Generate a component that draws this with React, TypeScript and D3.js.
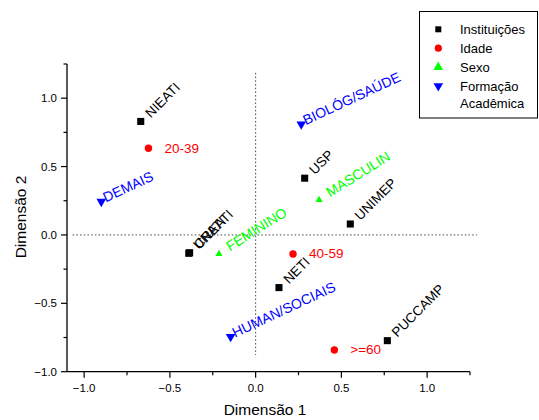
import React from "react";
import * as d3 from "d3";

// Correspondence-analysis coordinates (Dimensão 1, Dimensão 2)
const institutionNames = ["NIEATI", "USP", "UNIMEP", "UNATI", "CREATI", "NETI", "PUCCAMP"];
const institutionX = [-0.67, 0.286, 0.552, -0.39, -0.385, 0.136, 0.768];
const institutionY = [0.83, 0.415, 0.08, -0.134, -0.13, -0.385, -0.773];

const ageNames = ["20-39", "40-59", ">=60"];
const ageX = [-0.625, 0.218, 0.459];
const ageY = [0.634, -0.139, -0.841];

const sexNames = ["MASCULIN", "FEMININO"];
const sexX = [0.37, -0.214];
const sexY = [0.256, -0.139];

const formationNames = ["BIOLÓG/SAÚDE", "DEMAIS", "HUMAN/SOCIAIS"];
const formationX = [0.266, -0.9, -0.146];
const formationY = [0.81, 0.244, -0.744];

const legendLabels = ["Instituições", "Idade", "Sexo", "Formação"];
const legendExtra = "Acadêmica";

const xMajorTicks = [-1.0, -0.5, 0.0, 0.5, 1.0];
const xMinorTicks = [-0.75, -0.25, 0.25, 0.75, 1.25];
const yMajorTicks = [-1.0, -0.5, 0.0, 0.5, 1.0];
const yMinorTicks = [-0.75, -0.25, 0.25, 0.75, 1.25];

const W = 539;
const H = 420;
const FONT = "Arial, 'Liberation Sans', sans-serif";

const x = d3.scaleLinear().domain([-1.1, 1.25]).range([67, 470]);
const y = d3.scaleLinear().domain([-1.0, 1.25]).range([371.7, 64]);

const squarePath = d3.symbol().type(d3.symbolSquare).size(50)()!;
const smallTriPath = d3.symbol().type(d3.symbolTriangle).size(22)()!;
const triPath = d3.symbol().type(d3.symbolTriangle).size(40)()!;

const fmt = d3.format(".1f");

export default function App() {
  const x0 = x.range()[0];
  const y0 = y.range()[0];
  const x1 = x.range()[1];
  const yTop = y.range()[1];

  return (
    <svg
      width={W}
      height={H}
      style={{ position: "absolute", left: 0, top: 0, background: "#fff" }}
      fontFamily={FONT}
    >
      {/* reference lines through the origin */}
      <line x1={x(-1.067)} x2={x(1.29)} y1={y(0)} y2={y(0)} stroke="#444" strokeWidth={1} strokeDasharray="1.5,2.2" />
      <line x1={x(0)} x2={x(0)} y1={y(1.185)} y2={y(-0.878)} stroke="#444" strokeWidth={1} strokeDasharray="1.5,2.2" />

      {/* axes */}
      <line x1={x0} x2={x0} y1={yTop} y2={y0} stroke="#000" strokeWidth={1.3} />
      <line x1={x0} x2={x1} y1={y0} y2={y0} stroke="#000" strokeWidth={1.3} />
      {xMajorTicks.map((t) => (
        <g key={"xm" + t}>
          <line x1={x(t)} x2={x(t)} y1={y0} y2={y0 + 6} stroke="#000" strokeWidth={1.2} />
          <text x={x(t)} y={392} textAnchor="middle" fontSize={11.5}>
            {fmt(t)}
          </text>
        </g>
      ))}
      {xMinorTicks.map((t) => (
        <line key={"xn" + t} x1={x(t)} x2={x(t)} y1={y0} y2={y0 + 3.5} stroke="#000" strokeWidth={1.2} />
      ))}
      {yMajorTicks.map((t) => (
        <g key={"ym" + t}>
          <line x1={x0 - 6} x2={x0} y1={y(t)} y2={y(t)} stroke="#000" strokeWidth={1.2} />
          <text x={57} y={y(t) + 4} textAnchor="end" fontSize={11.5}>
            {fmt(t)}
          </text>
        </g>
      ))}
      {yMinorTicks.map((t) => (
        <line key={"yn" + t} x1={x0 - 3.5} x2={x0} y1={y(t)} y2={y(t)} stroke="#000" strokeWidth={1.2} />
      ))}
      <text x={265} y={415} textAnchor="middle" fontSize={15.5}>
        Dimensão 1
      </text>
      <text transform={`translate(26,217) rotate(-90)`} textAnchor="middle" fontSize={15.5}>
        Dimensão 2
      </text>

      {/* institutions */}
      {institutionNames.map((n, i) => (
        <g key={n}>
          <path d={squarePath} transform={`translate(${x(institutionX[i])},${y(institutionY[i])})`} fill="#000" />
          <text
            transform={`translate(${x(institutionX[i]) + 10},${y(institutionY[i]) - 3}) rotate(-45)`}
            fontSize={13.5}
            fill="#000"
          >
            {n}
          </text>
        </g>
      ))}

      {/* age groups */}
      {ageNames.map((n, i) => (
        <g key={n}>
          <circle cx={x(ageX[i])} cy={y(ageY[i])} r={3.7} fill="#ff0000" />
          <text x={x(ageX[i]) + 16} y={y(ageY[i]) + 4.5} fontSize={13.5} fill="#ff0000">
            {n}
          </text>
        </g>
      ))}

      {/* sex */}
      {sexNames.map((n, i) => (
        <g key={n}>
          <path d={smallTriPath} transform={`translate(${x(sexX[i])},${y(sexY[i])})`} fill="#00ff00" />
          <text
            transform={`translate(${x(sexX[i]) + 11},${y(sexY[i]) - 2.5}) rotate(-32)`}
            fontSize={14}
            fill="#00ff00"
          >
            {n}
          </text>
        </g>
      ))}

      {/* academic background */}
      {formationNames.map((n, i) => (
        <g key={n}>
          <path
            d={triPath}
            transform={`translate(${x(formationX[i])},${y(formationY[i])}) rotate(180)`}
            fill="#0000ff"
          />
          <text
            transform={`translate(${x(formationX[i]) + 4.5},${y(formationY[i]) + 1}) rotate(-25)`}
            fontSize={14}
            fill="#0000ff"
          >
            {n}
          </text>
        </g>
      ))}

      {/* legend */}
      <rect x={419.5} y={11.5} width={118} height={106.5} fill="#fff" stroke="#000" strokeWidth={1} />
      {legendLabels.map((l, i) => {
        const ly = 29.3 + i * 18.9;
        const cx = 438.3;
        let mark;
        if (i === 0) mark = <path d={squarePath} transform={`translate(${cx},${ly}) scale(0.85)`} fill="#000" />;
        else if (i === 1) mark = <circle cx={cx} cy={ly} r={3.6} fill="#ff0000" />;
        else if (i === 2) mark = <path d={triPath} transform={`translate(${cx},${ly})`} fill="#00ff00" />;
        else mark = <path d={triPath} transform={`translate(${cx},${ly}) rotate(180)`} fill="#0000ff" />;
        return (
          <g key={l}>
            {mark}
            <text x={460} y={ly + 4.7} fontSize={13}>
              {l}
            </text>
          </g>
        );
      })}
      <text x={460} y={108} fontSize={13}>
        {legendExtra}
      </text>
    </svg>
  );
}
